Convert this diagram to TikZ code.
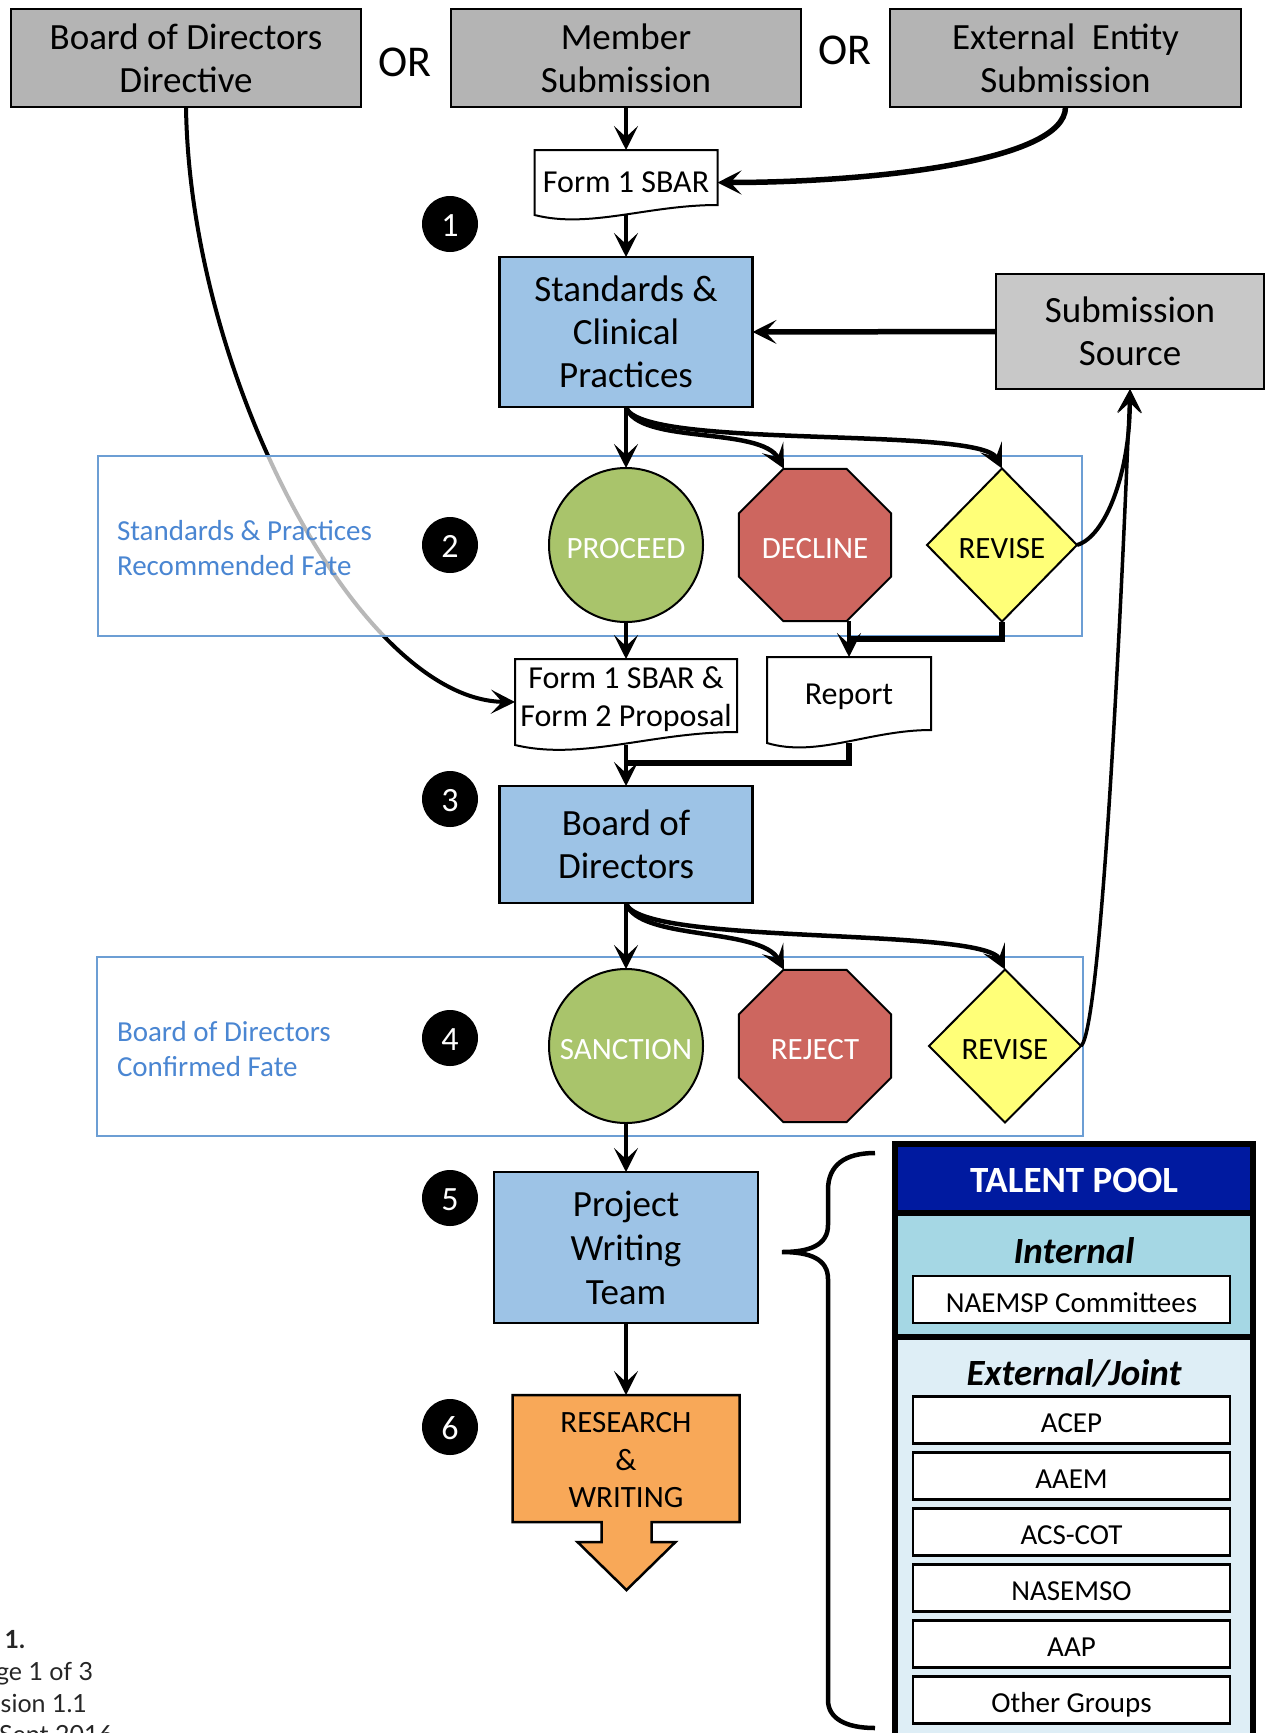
\documentclass[tikz,border=0pt]{standalone}
\usepackage{fontspec}
\setmainfont{Carlito}
\newfontfamily\latofont{Lato}
\usetikzlibrary{arrows.meta,shapes.geometric,calc}
\definecolor{gA}{RGB}{180,180,180}
\definecolor{gB}{RGB}{200,200,200}
\definecolor{bluef}{RGB}{157,195,230}
\definecolor{greenf}{RGB}{169,196,107}
\definecolor{redf}{RGB}{205,102,95}
\definecolor{yellowf}{RGB}{255,255,120}
\definecolor{orangef}{RGB}{248,168,88}
\definecolor{tpdark}{RGB}{0,26,160}
\definecolor{tpint}{RGB}{165,215,228}
\definecolor{tpext}{RGB}{222,238,246}
\definecolor{fatetext}{RGB}{74,134,210}
\definecolor{fateline}{RGB}{108,158,212}
\newcommand\fsA{\fontsize{37}{43}\selectfont}
\newcommand\fsB{\fontsize{32}{37.5}\selectfont}
\newcommand\fsC{\fontsize{29}{35}\selectfont}
\newcommand\fsD{\fontsize{31}{36}\selectfont}
\newcommand\fsE{\fontsize{29}{34}\selectfont}
\newcommand\fsN{\fontsize{34}{40}\selectfont}
\newcommand\fsOR{\fontsize{44}{50}\selectfont}
\newcommand\fsL{\fontsize{25}{30}\selectfont}
\begin{document}
\begin{tikzpicture}[x=1pt,y=-1pt,
  every node/.style={inner sep=0pt, outer sep=0pt, align=center},
  greybox/.style={draw, line width=2.5pt, fill=gA, minimum width=350pt, minimum height=98pt, font=\fsA},
  bbox/.style={draw, line width=2.5pt, fill=bluef, font=\fsA},
  numdot/.style={circle, fill=black, minimum size=56pt, text=white, font=\fsN, text height=24pt, text depth=0pt},
  docshape/.style={draw, line width=2pt, fill=white},
  conn/.style={line width=4.5pt, -{Stealth[length=24pt,width=24pt,inset=11pt]}},
  joinline/.style={line width=5.5pt},
  fatebox/.style={draw=fateline, line width=2pt, fill=white, fill opacity=0.72},
  fatelabel/.style={text=fatetext, font=\fsC, align=left, anchor=west},
  outc/.style={draw, line width=2pt, font=\fsD, text height=26pt, text depth=0pt},
  listbox/.style={draw, line width=2.5pt, fill=white, minimum width=317pt, minimum height=47pt, font=\fsE, text height=25pt, text depth=0pt},
  tpsec/.style={draw, line width=6pt, minimum width=358pt},
  foot/.style={anchor=base east, font=\latofont\fsL, text=black!85}
]
\useasboundingbox (0,0) rectangle (1265,1733);

% top row
\node[greybox] (bdd) at (186,58) {Board of Directors\\Directive};
\node[font=\fsOR] (or1) at (405,62) {OR};
\node[greybox] (mem) at (626,58) {Member\\Submission};
\node[font=\fsOR] (or2) at (845,50) {OR};
\node[greybox, minimum width=351pt] (ext) at (1065.5,58) {External\ \ Entity\\Submission};

% document nodes (geometry only)
\node[minimum width=183pt, minimum height=65pt] (f1) at (626,182.5) {};
\node[minimum width=222pt, minimum height=86pt] (f2) at (626,702) {};
\node[minimum width=164pt, minimum height=86pt] (rep) at (849,700) {};

% board directive curve (behind fate box)
\draw[conn, line width=4pt] (bdd.south) .. controls +(4,273) and +(-154,-2) .. (f2.west);

% fate boxes
\node[fatebox, minimum width=984pt, minimum height=180pt] (fate1) at (590,546) {};
\node[fatebox, minimum width=986pt, minimum height=179pt] (fate2) at (590,1046.5) {};
\node[fatelabel] (lab1) at (117,548) {Standards \& Practices\\Recommended Fate};
\node[fatelabel] (lab2) at (117,1049) {Board of Directors\\Confirmed Fate};

% documents
\filldraw[docshape] ([yshift=10pt]f1.south east) -- (f1.north east) -- (f1.north west) -- (f1.south west) .. controls +(55,14) and +(-70,0) .. ([yshift=10pt]f1.south east) -- cycle;
\node[font=\fsB] (f1t) at (f1.center) {Form 1 SBAR};
\filldraw[docshape] ([yshift=13pt]f2.south east) -- (f2.north east) -- (f2.north west) -- (f2.south west) .. controls +(67,16) and +(-85,0) .. ([yshift=13pt]f2.south east) -- cycle;
\node[font=\fsB] (f2t) at ([yshift=3pt]f2.center) {Form 1 SBAR \&\\Form 2 Proposal};
\filldraw[docshape] ([yshift=13pt]rep.south east) -- (rep.north east) -- (rep.north west) -- (rep.south west) .. controls +(50,15) and +(-62,0) .. ([yshift=13pt]rep.south east) -- cycle;
\node[font=\fsB] (rept) at ([yshift=3pt]rep.center) {Report};

% main boxes
\node[bbox, minimum width=253pt, minimum height=150pt] (scp) at (626,332) {Standards \&\\Clinical\\Practices};
\node[draw, line width=2.5pt, fill=gB, minimum width=268pt, minimum height=115pt, font=\fsA] (ss) at (1130,331.5) {Submission\\Source};
\node[bbox, minimum width=253pt, minimum height=117pt] (bod) at (626,844.5) {Board of\\Directors};
\node[bbox, minimum width=264pt, minimum height=151pt, font=\fontsize{37}{44}\selectfont] (pwt) at (626,1247.5) {Project\\Writing\\Team};

% outcomes
\node[outc, circle, fill=greenf, minimum size=154pt, text=white] (proceed) at (626,545) {PROCEED};
\node[outc, regular polygon, regular polygon sides=8, minimum size=165pt, fill=redf, text=white] (decline) at (815,545) {DECLINE};
\node[outc, diamond, fill=yellowf, minimum width=150pt, minimum height=153pt] (revise1) at (1002,545) {REVISE};
\node[outc, circle, fill=greenf, minimum size=154pt, text=white] (sanction) at (626,1046) {SANCTION};
\node[outc, regular polygon, regular polygon sides=8, minimum size=165pt, fill=redf, text=white] (reject) at (815,1046) {REJECT};
\node[outc, diamond, fill=yellowf, minimum width=152pt, minimum height=153pt] (revise2) at (1005,1046) {REVISE};

% research arrow
\node[minimum width=227pt, minimum height=127pt] (res) at (626,1458.5) {};
\filldraw[fill=orangef, line width=2.5pt] (res.north west) -- (res.north east) -- (res.south east) -- ++(-88,0) -- ++(0,20) -- ++(24,0) -- ++(-49,48) -- ++(-49,-48) -- ++(24,0) -- ++(0,-20) -- (res.south west) -- cycle;
\node[font=\fontsize{31}{37.5}\selectfont] (rest) at ([yshift=-2pt]res.center) {RESEARCH\\\&\\WRITING};

% number dots
\node[numdot] (n1) at (450,224) {1};
\node[numdot] (n2) at (450,545) {2};
\node[numdot] (n3) at (450,799) {3};
\node[numdot] (n4) at (450,1038) {4};
\node[numdot] (n5) at (450,1198) {5};
\node[numdot] (n6) at (450,1427) {6};

% connectors
\draw[conn] (mem.south) -- (f1.north);
\draw[conn, line width=5.5pt] (ext.south) .. controls +(0,55) and +(150,0) .. (f1.east);
\draw[conn] (f1.south) -- (scp.north);
\draw[conn, line width=5.5pt] (ss.west) -- (scp.east);
\draw[conn] (scp.south) -- (proceed.north);
\draw[conn] (scp.south) .. controls +(12,38) and +(-23,-43) .. ([xshift=-31pt]decline.north);
\draw[conn] (scp.south) .. controls +(12,43) and +(-22,-43) .. (revise1.north);
\draw[conn, line width=4pt] (revise1.east) .. controls +(28,-8) and +(0,85) .. (ss.south);
\draw[conn, line width=3.5pt] (revise2.east) .. controls +(18,-15) and +(-12,300) .. (ss.south);
\draw[conn] (proceed.south) -- (f2.north);
\draw[conn] (decline.south -| rep.north) -- (rep.north);
\draw[joinline] (revise1.south) |- ($(rep.north)+(0,-18)$);
\draw[conn] (f2.south) -- (bod.north);
\draw[joinline] (rep.south) |- ($(bod.north)+(0,-23)$);
\draw[conn] (bod.south) -- (sanction.north);
\draw[conn] (bod.south) .. controls +(12,38) and +(-23,-43) .. ([xshift=-31pt]reject.north);
\draw[conn] (bod.south) .. controls +(12,43) and +(-22,-43) .. (revise2.north);
\draw[conn] (sanction.south) -- (pwt.north);
\draw[conn] (pwt.south) -- (res.north);

% brace
\draw[line width=4.5pt] (875,1153) .. controls (845,1153) and (828,1165) .. (828,1190) -- (828,1225) .. controls (828,1245) and (810,1252) .. (782,1252) .. controls (810,1252) and (828,1259) .. (828,1279) -- (828,1700) .. controls (828,1718) and (845,1728) .. (875,1728);

% talent pool
\node[tpsec, fill=tpext, minimum height=423pt] (tpe) at (1074,1548.5) {};
\node[tpsec, fill=tpint, minimum height=124pt] (tpi) at (1074,1275) {};
\node[tpsec, fill=tpdark, minimum height=69pt, text=white, font=\fsA\bfseries, text height=28pt, text depth=0pt] (tp) at (1074,1178.5) {TALENT POOL};
\node[font=\fsA\bfseries\itshape] (tpil) at (1074,1251) {Internal};
\node[font=\fsA\bfseries\itshape] (tpel) at (1074,1373) {External/Joint};
\node[listbox] (naemsp) at (1071.5,1299.5) {NAEMSP Committees};
\node[listbox] (acep) at (1071.5,1420) {ACEP};
\node[listbox] (aaem) at (1071.5,1476) {AAEM};
\node[listbox] (acs) at (1071.5,1532) {ACS-COT};
\node[listbox] (nasemso) at (1071.5,1588) {NASEMSO};
\node[listbox] (aap) at (1071.5,1644) {AAP};
\node[listbox] (other) at (1071.5,1700) {Other Groups};

% footer fragments
\begin{scope}
\clip (0,0) rectangle (1265,1733);
\node[foot, font=\latofont\fsL\bfseries] (ft1) at (25,1648) {1.};
\node[foot] (ft2) at (93,1680) {ge 1 of 3};
\node[foot] (ft3) at (87,1712) {sion 1.1};
\node[foot] (ft4) at (113,1743) {Sept 2016};
\end{scope}
\end{tikzpicture}
\end{document}
